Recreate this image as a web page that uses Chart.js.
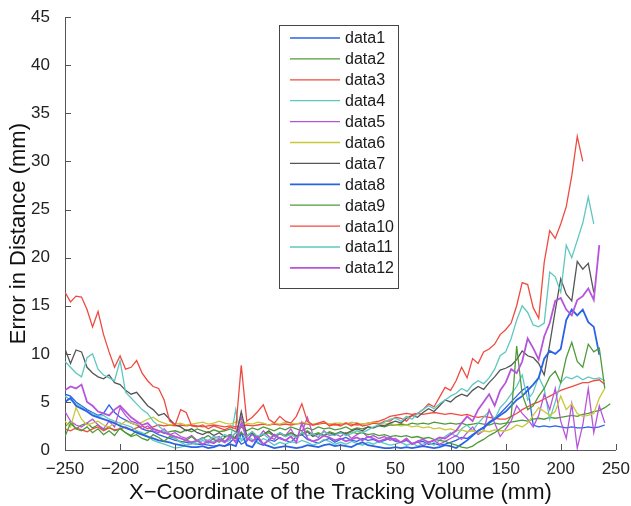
<!DOCTYPE html>
<html>
<head>
<meta charset="utf-8">
<script src="https://cdn.jsdelivr.net/npm/chart.js@4.4.0/dist/chart.umd.min.js"></script>
<style>
  html, body { margin: 0; padding: 0; background: #fff; }
  #wrap { width: 631px; height: 506px; position: relative; }
</style>
</head>
<body>
<div id="wrap"><canvas id="chart"></canvas></div>
<script>
// X positions (mm) shared by all series
const xs = [
  -250, -245, -240, -235, -230, -225, -220, -215, -210, -205,
  -200, -195, -190, -185, -180, -175, -170, -165, -160, -155,
  -150, -145, -140, -135, -130, -125, -120, -115, -110, -105,
  -100, -95, -90, -85, -80, -75, -70, -65, -60, -55,
  -50, -45, -40, -35, -30, -25, -20, -15, -10, -5,
  0, 5, 10, 15, 20, 25, 30, 35, 40, 45,
  50, 55, 60, 65, 70, 75, 80, 85, 90, 95,
  100, 105, 110, 115, 120, 125, 130, 135, 140, 145,
  150, 155, 160, 165, 170, 175, 180, 185, 190, 195,
  200, 205, 210, 215, 220, 225, 230, 235, 240, 245
];

const data1 = [
  5.8, 5.6, 5.0, 4.6, 4.2, 3.9, 3.6, 3.8, 4.7, 3.9,
  3.4, 3.1, 2.8, 2.6, 2.2, 2.0, 1.9, 1.6, 1.4, 1.2,
  1.0, 0.9, 0.8, 0.7, 0.6, 0.6, 0.5, 0.4, 0.5, 0.4,
  0.8, 1.4, 0.6, 0.9, 1.8, 0.7, 0.5, 1.1, 0.9, 1.3,
  1.0, 0.8, 1.4, 1.6, 1.1, 0.9, 0.7, 1.0, 1.2, 0.8,
  1.1, 1.3, 1.0, 0.9, 1.2, 1.0, 1.1, 0.8, 1.0, 1.2,
  0.9, 0.8, 1.0, 0.7, 0.8, 0.9, 0.6, 0.7, 0.5, 0.6,
  0.8, 1.0, 1.3, 1.2, 1.6, 2.0, 2.4, 2.9, 3.3, 3.8,
  4.4, 5.0, 5.6, 6.2, 6.6, 2.6, 2.4, 2.5, 2.4, 2.5,
  2.4, 2.3, 2.4, 2.3, 2.3, 2.4, 2.3, 2.4, 2.6, null
];
const data2 = [
  2.4, 3.0, 2.2, 2.6, 2.8, 2.3, 2.6, 2.1, 2.4, 2.0,
  2.2, 1.8, 1.5, 2.0, 1.6, 1.8, 2.2, 2.0, 1.7, 1.9,
  2.0, 1.8, 2.1, 1.9, 2.2, 2.0, 1.8, 2.1, 1.9, 2.0,
  2.2, 1.9, 2.4, 2.0, 2.3, 2.1, 2.4, 2.2, 2.0, 2.3,
  2.1, 2.4, 2.2, 2.0, 2.3, 2.1, 2.4, 2.2, 2.3, 2.1,
  2.2, 2.4, 2.1, 2.3, 2.2, 2.4, 2.3, 2.5, 2.4, 2.6,
  2.6, 2.7, 2.6, 2.8, 2.7, 2.8, 2.7, 2.9, 2.8, 2.7,
  2.8, 2.7, 2.8, 2.6, 2.7, 2.8, 2.7, 2.6, 2.8, 2.7,
  2.8, 2.9, 3.0, 3.1, 3.0, 3.2, 3.3, 3.2, 3.4, 3.3,
  3.4, 3.5, 3.6, 3.5, 3.7, 3.8, 4.0, 4.1, 4.4, 4.8
];
const data3 = [
  2.2, 2.0, 2.3, 2.1, 1.9, 2.2, 2.4, 2.0, 2.3, 2.1,
  2.2, 2.4, 2.1, 2.3, 2.5, 2.2, 2.4, 2.6, 2.5, 2.6,
  2.5, 2.6, 2.5, 2.6, 2.5, 2.4, 2.5, 2.6, 2.5, 2.4,
  2.5, 2.4, 2.5, 2.6, 2.5, 2.6, 2.7, 2.6, 2.7, 2.6,
  2.7, 2.6, 2.7, 2.8, 2.7, 2.6, 2.7, 2.8, 2.7, 2.6,
  2.7, 2.8, 2.7, 2.6, 2.7, 2.8, 2.9, 3.0, 3.2, 3.5,
  3.6, 3.7, 3.8, 3.7, 3.8, 3.7, 3.8, 3.9, 3.8, 3.7,
  3.8, 3.7, 3.6, 3.7, 3.5, 3.4, 3.5, 3.4, 3.3, 3.2,
  3.2, 3.5, 3.8, 4.2, 4.5, 4.8, 5.0, 5.3, 5.6, 5.9,
  6.2, 6.4, 6.6, 6.8, 7.0, 7.0, 7.2, 7.3, 6.8, null
];
const data4 = [
  5.6, 5.2, 4.8, 4.5, 4.0, 3.8, 3.5, 3.6, 3.2, 3.0,
  2.8, 2.6, 2.4, 2.0, 1.8, 1.4, 1.0, 0.8, 0.6, 0.4,
  0.2, 0.3, 0.5, 0.8, 0.6, 1.0, 0.7, 0.9, 1.2, 0.8,
  1.0, 4.2, 0.9, 1.4, 1.1, 0.7, 1.2, 0.9, 0.5, 0.8,
  0.6, 0.9, 0.7, 1.0, 0.8, 0.5, 0.7, 1.1, 0.9, 0.6,
  0.8, 0.6, 0.9, 0.7, 0.5, 0.8, 0.6, 0.9, 0.7, 0.5,
  0.6, 0.8, 0.5, 0.7, 0.4, 0.6, 0.8, 0.5, 1.0, 1.4,
  1.8, 1.4, 2.2, 2.6, 2.0, 2.8, 3.4, 4.0, 3.2, 4.4,
  5.0, 5.8, 6.6, 7.8, 5.2, 6.0, 7.6, 6.4, 3.2, 5.0,
  7.0, 7.6, 7.4, 7.7, 7.3, 7.6, 7.4, 7.5, 7.2, null
];
const data5 = [
  4.0, 3.0, 2.6, 2.4, 2.8, 3.2, 2.6, 2.2, 3.0, 2.4,
  4.4, 3.6, 3.0, 2.8, 2.2, 2.5, 2.0, 1.8, 2.2, 1.6,
  1.8, 1.4, 1.2, 1.5, 1.0, 1.3, 0.8, 1.2, 1.4, 0.9,
  1.2, 1.8, 3.4, 1.0, 1.6, 1.2, 2.0, 1.4, 1.1, 1.8,
  1.5, 2.2, 1.2, 1.8, 3.4, 1.6, 1.3, 2.0, 1.5, 1.7,
  1.4, 1.8, 1.2, 1.6, 1.9, 1.3, 1.5, 1.2, 1.4, 1.0,
  1.2, 0.8, 1.1, 0.6, 0.9, 0.4, 0.8, 1.0, 0.6, 0.9,
  1.2, 1.5, 1.1, 1.8, 2.4, 1.6, 2.0, 4.2, 2.8, 1.4,
  2.2, 3.0, 4.6, 3.8, 3.2, 2.4, 3.6, 5.8, 4.2, 6.4,
  3.0, 1.2, 4.8, 0.2, 2.6, 6.4, 1.8, 4.6, 2.8, null
];
const data6 = [
  3.0, 2.4, 4.4, 3.2, 2.6, 2.8, 3.0, 2.6, 2.4, 2.8,
  2.6, 3.0, 2.8, 2.6, 2.9, 3.2, 3.4, 3.0, 2.8, 2.6,
  2.7, 2.8, 2.6, 2.7, 2.8, 2.9, 2.7, 2.8, 3.0, 2.8,
  2.7, 2.9, 3.0, 2.8, 2.7, 2.9, 2.8, 2.6, 2.8, 2.7,
  2.9, 2.8, 2.7, 2.9, 2.8, 2.7, 2.8, 2.9, 2.7, 2.8,
  2.8, 2.7, 2.9, 2.8, 2.7, 2.8, 2.9, 2.8, 2.7, 2.8,
  2.6, 2.5, 2.6, 2.4, 2.5, 2.3, 2.4, 2.2, 2.3, 2.1,
  2.2, 2.0, 2.1, 1.9, 2.0, 1.8, 2.0, 1.9, 2.1, 2.0,
  2.0, 2.2, 2.6, 2.4, 2.8, 3.6, 4.4, 4.0, 3.6, 4.0,
  5.6, 4.2, 4.8, 3.8, 3.5, 3.6, 3.8, 5.4, 6.4, null
];
const data7 = [
  10.5, 9.0, 10.4, 10.2, 8.6, 8.0, 7.6, 7.4, 7.8, 7.0,
  6.8, 6.2, 5.8, 6.0, 5.3, 4.6, 4.2, 3.6, 3.8, 3.2,
  2.6, 2.4, 2.0, 2.2, 1.8, 1.6, 1.9, 1.5, 1.8, 1.4,
  1.6, 1.2, 4.0, 1.5, 1.8, 1.3, 1.6, 2.0, 1.5, 1.7,
  1.4, 1.8, 1.5, 1.6, 1.9, 1.4, 1.7, 1.5, 1.8, 1.6,
  1.9, 1.7, 2.0, 2.2, 2.0, 2.4, 2.3, 2.6, 2.5, 2.8,
  3.0, 2.8, 3.3, 3.6, 3.4, 3.9, 4.3, 4.0, 4.6, 5.2,
  5.0, 5.5, 5.8, 5.6, 6.2, 6.6, 6.3, 7.0, 7.6, 8.3,
  8.5, 8.8, 9.4, 10.3, 9.8, 9.6, 9.0, 7.8, 11.0, 14.5,
  17.8, 16.2, 15.5, 19.6, 18.8, 19.4, 16.4, null, null, null
];
const data8 = [
  5.0, 5.4, 4.6, 4.3, 4.0, 3.6, 3.4, 3.2, 3.0, 2.8,
  2.5, 2.3, 2.1, 1.8, 1.6, 1.4, 1.2, 1.0, 0.9, 0.8,
  0.6, 0.5, 0.4, 0.3, 0.3, 0.4, 0.2, 0.3, 0.5, 0.4,
  0.6, 0.4, 1.8, 0.5, 0.3, 1.2, 0.6, 0.4, 0.2, 0.3,
  0.4, 0.3, 0.2, 0.3, 0.5, 0.4, 0.3, 0.5, 0.6, 0.4,
  0.5, 0.4, 0.3, 0.6, 0.8, 0.5, 0.4, 0.3, 0.2, 0.2,
  0.3, 0.2, 0.3, 0.2, 0.3, 0.4, 0.3, 0.2, 0.3, 0.5,
  0.4, 0.2, 0.6, 1.0, 1.5, 2.0, 2.3, 2.8, 3.2, 3.6,
  4.0, 4.6, 5.2, 5.6, 6.2, 6.8, 7.5, 9.5, 10.3, 10.0,
  10.5, 13.5, 14.6, 14.0, 14.6, 13.3, 12.8, 9.9, null, null
];
const data9 = [
  1.4, 2.8, 2.2, 2.0, 2.4, 1.8, 2.2, 1.6, 2.0, 1.5,
  2.3, 1.8, 1.4, 1.6, 1.2, 1.0, 1.6, 1.3, 0.9, 1.4,
  1.2, 0.8, 1.0, 1.4, 0.9, 1.2, 1.5, 1.1, 0.8, 1.3,
  1.6, 1.2, 1.8, 1.4, 1.9, 1.3, 1.6, 1.8, 1.4, 1.7,
  1.5, 1.8, 1.4, 1.7, 2.0, 1.6, 1.8, 1.5, 1.9, 1.7,
  1.8, 1.6, 1.9, 1.7, 1.8, 1.6, 1.7, 1.5, 1.6, 1.4,
  1.5, 1.4, 1.5, 1.3, 1.4, 1.2, 1.3, 1.1, 1.0, 0.9,
  0.7, 0.5, 0.3, 0.2, 0.4, 0.8, 1.1, 1.5, 1.8, 2.2,
  2.6, 3.5, 10.8, 5.8, 4.2, 4.6, 5.6, 6.4, 7.6, 8.2,
  7.0, 9.6, 11.2, 9.2, 8.6, 11.0, 10.2, 10.6, 6.4, null
];
const data10 = [
  16.4, 15.4, 16.0, 15.9, 14.6, 12.8, 14.4, 12.0, 10.2, 8.6,
  9.8, 8.4, 8.6, 9.3, 8.0, 7.2, 6.6, 6.4, 5.2, 3.0,
  2.6, 4.2, 3.9, 2.5, 2.4, 2.6, 2.2, 2.5, 2.3, 2.1,
  2.4, 2.2, 8.8, 3.0, 3.4, 4.0, 4.7, 3.2, 2.8, 3.5,
  3.0, 2.8, 3.5, 4.8, 3.0, 2.6, 2.8, 3.0, 2.5, 2.7,
  2.5, 2.8, 2.5, 2.8, 2.5, 2.6, 2.8, 2.7, 3.0, 3.0,
  3.4, 3.3, 3.0, 3.6, 3.8, 4.2, 4.8, 4.5, 5.5, 6.5,
  6.2, 7.2, 8.6, 7.5, 9.5, 9.0, 10.2, 10.5, 11.0, 12.0,
  12.5, 13.2, 15.0, 17.4, 17.2, 14.8, 13.7, 19.5, 22.8, 22.0,
  23.5, 25.3, 28.5, 32.6, 30.0, null, null, null, null, null
];
const data11 = [
  9.2, 8.6, 8.0, 7.6, 9.6, 10.0, 8.4, 7.8, 7.5, 7.2,
  9.3, 6.0, 5.4, 4.8, 4.2, 3.8, 3.0, 2.5, 2.0, 1.6,
  1.2, 0.8, 0.5, 0.6, 0.9, 1.2, 1.0, 1.4, 1.2, 1.6,
  1.3, 1.8, 1.1, 1.5, 1.9, 1.4, 1.7, 1.2, 1.5, 1.8,
  1.4, 1.6, 1.3, 1.8, 1.5, 1.7, 1.4, 1.9, 1.6, 1.5,
  1.8, 1.5, 1.7, 2.0, 1.8, 2.1, 2.4, 2.6, 2.9, 3.2,
  3.3, 3.0, 3.5, 3.2, 3.8, 4.2, 4.6, 4.3, 4.8, 5.2,
  5.6, 5.9, 6.4, 6.1, 6.8, 7.2, 6.9, 7.5, 8.4, 9.8,
  10.2, 11.6, 13.5, 15.0, 14.3, 13.0, 12.8, 13.2, 18.5, 18.0,
  16.4, 21.3, 20.0, 21.8, 23.6, 26.3, 23.5, null, null, null
];
const data12 = [
  6.2, 6.6, 6.4, 6.8, 5.0, 4.6, 4.0, 3.8, 3.6, 4.2,
  4.6, 4.0, 3.4, 3.0, 2.6, 2.8, 2.2, 2.0, 1.8, 1.6,
  1.4, 1.2, 1.0, 0.8, 1.0, 0.6, 0.9, 0.7, 1.1, 0.8,
  1.5, 0.8, 2.8, 1.2, 0.9, 1.4, 0.6, 1.0, 1.6, 1.2,
  1.0, 1.4, 0.8, 2.8, 1.2, 0.9, 1.1, 1.5, 1.3, 1.0,
  1.2, 0.9, 1.1, 1.3, 1.0, 1.4, 1.2, 0.9, 1.1, 1.3,
  1.0, 0.8, 1.2, 0.6, 0.9, 1.1, 0.8, 1.0, 1.3, 1.2,
  1.6, 2.0, 2.8, 3.5, 3.0, 4.2, 5.0, 5.8, 4.6, 6.2,
  7.0, 8.4, 8.0, 9.2, 11.6, 10.6, 9.4, 11.8, 13.2, 15.5,
  15.8, 14.6, 14.0, 15.6, 16.0, 16.8, 15.6, 21.3, null, null
];

const seriesNames = ['data1', 'data2', 'data3', 'data4', 'data5', 'data6',
                     'data7', 'data8', 'data9', 'data10', 'data11', 'data12'];
const seriesValues = [data1, data2, data3, data4, data5, data6,
                      data7, data8, data9, data10, data11, data12];
// MATLAB default line order, repeating after seven
const lineColors = ['#2b63e6', '#4f9a3a', '#f04a40', '#5ec8c0', '#b655dc', '#c9c83a', '#555555'];

const FONT = '"Liberation Sans", Arial, Helvetica, sans-serif';

const datasets = seriesValues.map((vals, i) => ({
    label: seriesNames[i],
    data: xs.map((x, j) => ({ x: x, y: vals[j] })),
    borderColor: lineColors[i % 7],
    borderWidth: (i === 7 || i === 11) ? 1.8 : 1.3,
    pointRadius: 0,
    tension: 0,
    fill: false,
    spanGaps: false,
    order: 12 - i
}));

// inward tick marks, MATLAB style
const innerTicks = {
    id: 'innerTicks',
    afterDraw(chart) {
        const ctx = chart.ctx;
        const area = chart.chartArea;
        const xScale = chart.scales.x, yScale = chart.scales.y;
        ctx.save();
        ctx.strokeStyle = '#555';
        ctx.lineWidth = 1;
        ctx.beginPath();
        xScale.ticks.forEach(t => {
            const px = Math.round(xScale.getPixelForValue(t.value)) + 0.5;
            ctx.moveTo(px, area.bottom);
            ctx.lineTo(px, area.bottom - 6);
        });
        yScale.ticks.forEach(t => {
            const py = Math.round(yScale.getPixelForValue(t.value)) + 0.5;
            ctx.moveTo(area.left, py);
            ctx.lineTo(area.left + 6, py);
        });
        ctx.stroke();
        ctx.restore();
    }
};

// legend box drawn inside the axes
const boxLegend = {
    id: 'boxLegend',
    afterDraw(chart) {
        const ctx = chart.ctx;
        const left = 279, top = 25, w = 119, h = 263;
        ctx.save();
        ctx.fillStyle = '#fff';
        ctx.fillRect(left, top, w, h);
        ctx.strokeStyle = '#444';
        ctx.lineWidth = 1;
        ctx.strokeRect(left + 0.5, top + 0.5, w, h);
        ctx.font = '16px ' + FONT;
        ctx.textBaseline = 'middle';
        chart.data.datasets.forEach((ds, i) => {
            const y = top + 13 + i * 20.9;
            ctx.strokeStyle = ds.borderColor;
            ctx.lineWidth = ds.borderWidth;
            ctx.beginPath();
            ctx.moveTo(left + 11, y);
            ctx.lineTo(left + 61, y);
            ctx.stroke();
            ctx.fillStyle = '#1a1a1a';
            ctx.fillText(ds.label, left + 66, y + 1);
        });
        ctx.restore();
    }
};

const ctx = document.getElementById('chart').getContext('2d');
new Chart(ctx, {
    type: 'line',
    data: { datasets: datasets },
    options: {
        responsive: true,
        maintainAspectRatio: false,
        animation: false,
        layout: { padding: { left: 0, right: 15, top: 14, bottom: 0 } },
        plugins: {
            legend: { display: false },
            tooltip: { enabled: false }
        },
        scales: {
            x: {
                type: 'linear',
                min: -250,
                max: 250,
                grid: { display: false },
                border: { display: true, color: '#555', width: 1 },
                ticks: {
                    stepSize: 50,
                    padding: 1,
                    color: '#222',
                    font: { family: FONT, size: 17 },
                    maxRotation: 0,
                    callback: v => (v < 0 ? '\u2212' + Math.abs(v) : String(v))
                },
                title: {
                    display: true,
                    text: 'X\u2212Coordinate of the Tracking Volume (mm)',
                    color: '#111',
                    font: { family: FONT, size: 22 },
                    padding: { top: 0, bottom: 0 }
                },
                afterFit: s => { s.height = 56; }
            },
            y: {
                min: 0,
                max: 45,
                grid: { display: false },
                border: { display: true, color: '#555', width: 1 },
                ticks: {
                    stepSize: 5,
                    padding: 7,
                    color: '#222',
                    font: { family: FONT, size: 17 }
                },
                title: {
                    display: true,
                    text: 'Error in Distance (mm)',
                    color: '#111',
                    font: { family: FONT, size: 22 },
                    padding: { top: 6, bottom: 0 }
                },
                afterFit: s => { s.width = 65; }
            }
        }
    },
    plugins: [innerTicks, boxLegend]
});
</script>
</body>
</html>
